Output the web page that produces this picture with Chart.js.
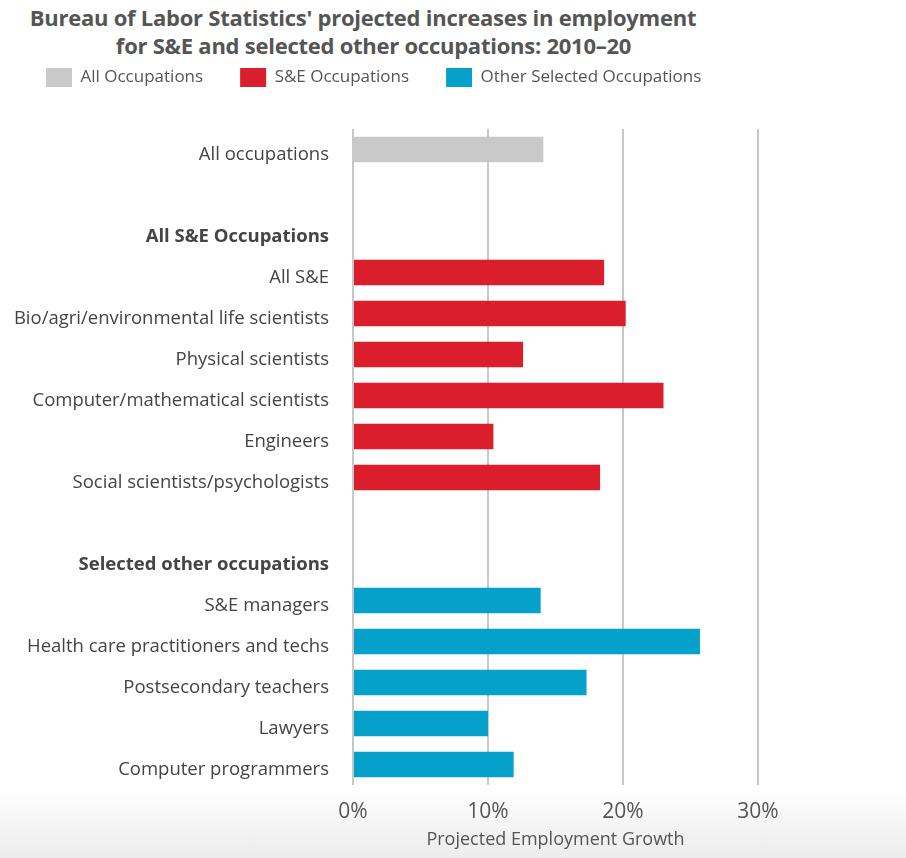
<!DOCTYPE html>
<html>
<head>
<meta charset="UTF-8">
<title>BLS projected increases in employment 2010-20</title>
<script src="https://cdn.jsdelivr.net/npm/chart.js"></script>
<style>
    html, body { margin: 0; padding: 0; }
    body {
        width: 906px;
        height: 858px;
        overflow: hidden;
        position: relative;
        background: linear-gradient(to bottom, #ffffff 0px, #ffffff 790px, #f3f3f3 830px, #ececec 858px);
        font-family: "Open Sans", sans-serif;
    }
    #chart_title {
        position: absolute;
        left: 0;
        top: 3px;
        width: 726px;
        text-align: center;
        font-weight: bold;
        font-size: 22px;
        line-height: 28px;
        color: #555555;
        letter-spacing: -0.25px;
    }
    #chart_title div { white-space: nowrap; }
    #title_line2 { padding-left: 21px; }
    #wrap { position: absolute; left: 0; top: 0; width: 906px; height: 858px; }
</style>
</head>
<body>

<div id="chart_title">
    <div>Bureau of Labor Statistics' projected increases in employment</div>
    <div id="title_line2">for S&amp;E and selected other occupations: 2010–20</div>
</div>
<div id="wrap"><canvas id="growth"></canvas></div>

<script>
    // rows of the chart, blank strings are the spacer rows
    var categories = [
        "All occupations",
        "",
        "All S&E Occupations",
        "All S&E",
        "Bio/agri/environmental life scientists",
        "Physical scientists",
        "Computer/mathematical scientists",
        "Engineers",
        "Social scientists/psychologists",
        "",
        "Selected other occupations",
        "S&E managers",
        "Health care practitioners and techs",
        "Postsecondary teachers",
        "Lawyers",
        "Computer programmers"
    ];
    var header_rows = ["All S&E Occupations", "Selected other occupations"];

    // projected growth in percent
    var all_occupations = [14.1, null, null, null, null, null, null, null, null, null, null, null, null, null, null, null];
    var se_occupations = [null, null, null, 18.6, 20.2, 12.6, 23.0, 10.4, 18.3, null, null, null, null, null, null, null];
    var other_occupations = [null, null, null, null, null, null, null, null, null, null, null, 13.9, 25.7, 17.3, 10.0, 11.9];

    var series_names = ["All Occupations", "S&E Occupations", "Other Selected Occupations"];
    var x_ticks = [0, 10, 20, 30];
    var x_title = "Projected Employment Growth";

    // push the plot area down below the legend
    const legend_gap = {
        id: 'legend_gap',
        beforeInit(chart) {
            const origFit = chart.legend.fit;
            chart.legend.fit = function fit() {
                origFit.bind(chart.legend)();
                this.height += 32;
            };
        }
    };

    function bar_set(label, values, colour) {
        return {
            label: label,
            data: values,
            backgroundColor: colour,
            borderWidth: 0,
            grouped: false,
            categoryPercentage: 1,
            barPercentage: 0.62
        };
    }

    const config = {
        type: 'bar',
        data: {
            labels: categories,
            datasets: [
                bar_set(series_names[0], all_occupations, '#c9c9c9'),
                bar_set(series_names[1], se_occupations, '#db1e2c'),
                bar_set(series_names[2], other_occupations, '#05a1ca')
            ]
        },
        options: {
            indexAxis: 'y',
            responsive: false,
            animation: false,
            layout: {
                padding: { top: 31, left: 9, right: 148, bottom: 0 }
            },
            plugins: {
                legend: {
                    position: 'top',
                    align: 'start',
                    labels: {
                        boxWidth: 26,
                        boxHeight: 19,
                        padding: 37,
                        color: '#555555',
                        font: { family: 'Open Sans', size: 17 }
                    }
                },
                tooltip: { enabled: false }
            },
            scales: {
                x: {
                    min: 0,
                    max: 30,
                    afterBuildTicks: function(axis) {
                        axis.ticks = x_ticks.map(function(v) { return { value: v }; });
                    },
                    grid: {
                        color: '#c8c8c8',
                        lineWidth: 2,
                        drawTicks: false
                    },
                    border: { display: false },
                    ticks: {
                        padding: 14.4,
                        color: '#555555',
                        font: { family: 'Open Sans', size: 21 },
                        callback: function(v) { return v + '%'; }
                    },
                    title: {
                        display: true,
                        text: x_title,
                        color: '#555555',
                        font: { family: 'Open Sans', size: 18 },
                        padding: { top: -9.8, bottom: 7.2 }
                    }
                },
                y: {
                    grid: { display: false, drawTicks: false },
                    border: { display: false },
                    afterFit: function(scale) { scale.width = 344; },
                    ticks: {
                        padding: 24,
                        labelOffset: 5,
                        color: '#444444',
                        autoSkip: false,
                        font: function(ctx) {
                            var lbl = ctx.tick ? ctx.tick.label : '';
                            return {
                                family: 'Open Sans',
                                size: 18.5,
                                weight: header_rows.indexOf(lbl) >= 0 ? 'bold' : 'normal'
                            };
                        }
                    }
                }
            }
        },
        plugins: [legend_gap]
    };

    var canvas = document.getElementById('growth');
    canvas.width = 906;
    canvas.height = 858;
    window.growth_chart = new Chart(canvas, config);
</script>
</body>
</html>
